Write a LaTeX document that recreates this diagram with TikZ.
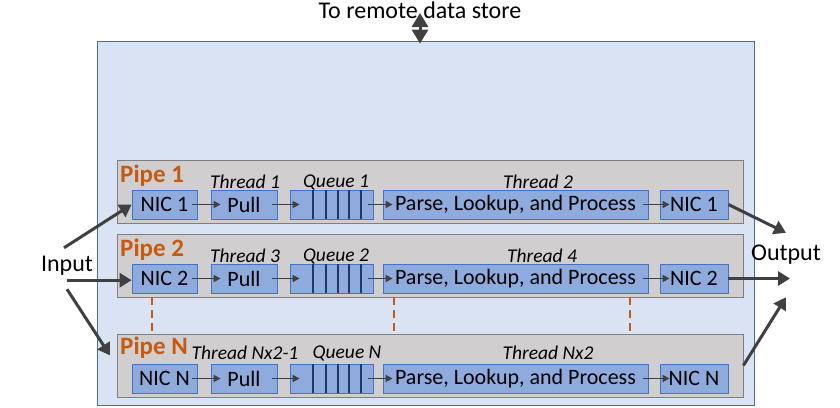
\documentclass[tikz,border=0pt]{standalone}
\usepackage{fontspec}
\setmainfont{Carlito}
\usepackage{tikz}
\definecolor{storeblue}{RGB}{218, 227, 243}
\definecolor{storeline}{RGB}{65, 113, 156}
\definecolor{pipegray}{RGB}{208, 206, 206}
\definecolor{pipeline}{RGB}{127, 127, 127}
\definecolor{stageblue}{RGB}{143, 170, 220}
\definecolor{stageline}{RGB}{68, 114, 196}
\definecolor{queueline}{RGB}{32, 56, 100}
\definecolor{pipeorange}{RGB}{197, 90, 17}
\definecolor{arrowgray}{RGB}{64, 64, 64}
\usetikzlibrary{
  arrows.meta,
  calc,
  positioning,
}
\tikzset{
  >=Triangle[],
  serverbox/.style={draw=storeline, fill=storeblue, line width=0.8pt, inner sep=0pt},
  pipebox/.style={draw=pipeline, fill=pipegray, line width=0.8pt,
    minimum width=626pt, minimum height=63pt, inner sep=0pt},
  stagebox/.style={draw=stageline, fill=stageblue, line width=0.8pt,
    minimum height=29pt, inner sep=0pt, font=\fontsize{22}{24}\selectfont},
  pipelabel/.style={text=pipeorange, anchor=west, inner sep=0pt,
    font=\bfseries\fontsize{25}{28}\selectfont},
  threadlabel/.style={inner sep=0pt, font=\itshape\fontsize{19.5}{22}\selectfont},
  iolabel/.style={inner sep=0pt, font=\fontsize{24}{26}\selectfont},
  stagearrow/.style={->, draw=arrowgray, line width=1.6pt,
    >={Triangle[length=7pt, width=7pt]}, shorten <=-5pt, shorten >=-10pt},
  bigarrow/.style={->, draw=arrowgray, line width=3pt,
    >={Triangle[length=12pt, width=14pt]}},
  bothways/.style={<->, draw=arrowgray, line width=3pt,
    >={Triangle[length=14pt, width=16pt]}},
  farlink/.style={draw=pipeorange, line width=2pt, dash pattern=on 8pt off 5pt},
  qline/.style={draw=queueline, line width=2pt},
}

\begin{document}
\begin{tikzpicture}[x=1pt, y=-1pt]
      \useasboundingbox (0,0) rectangle (840,407);
      \node [serverbox, minimum width=657pt, minimum height=364pt] at (425.5, 223)
            (server) {};
      \node [iolabel] at (420, 10) (remote) {To remote data store};
      \draw [bothways, shorten >=-3pt] ([yshift=-3pt]remote.center)
            -- (remote.center |- server.north);

      % one pipe per row
      \foreach \row/\ytop/\pipey/\laby/\ta/\tax/\qx/\tb/\tbx in {
          1/160/176/182/Thread 1/245/336/Thread 2/538,
          2/234/250/256/Thread 3/245/336/Thread 4/542,
          N/334/348/353/Thread Nx2-1/245/347/Thread Nx2/548} {
        \node [pipebox] at (430, \ytop+31.5) (pipe\row) {};
        \node [pipelabel] at (120, \pipey) (pipelbl\row) {Pipe \row};
        \node [stagebox, minimum width=65pt] at (164.5, \ytop+44.5) (nicin\row) {NIC \row};
        \node [stagebox, minimum width=66pt] at (244, \ytop+44.5) (pull\row) {Pull};
        \node [stagebox, minimum width=83pt] at (331.5, \ytop+44.5) (queue\row) {};
        \node [stagebox, minimum width=265pt] at (515.5, \ytop+44.5)
              (parse\row) {Parse, Lookup, and Process};
        \node [stagebox, minimum width=68pt] at (694, \ytop+44.5) (nicout\row) {NIC \row};
        \node [threadlabel] at (\tax, \laby) (threadA\row) {\ta};
        \node [threadlabel] at (\qx, \laby) (qlbl\row) {Queue \row};
        \node [threadlabel] at (\tbx, \laby) (threadB\row) {\tb};
        \foreach \q in {23,36,48,59,71}
          \draw [qline] ([xshift=\q pt]queue\row.south west)
                -- ([xshift=\q pt]queue\row.north west);
        \draw [stagearrow] (nicin\row.east) -- (pull\row.west);
        \draw [stagearrow] (pull\row.east) -- (queue\row.west);
        \draw [stagearrow] (queue\row.east) -- (parse\row.west);
        \draw [stagearrow] (parse\row.east) -- (nicout\row.west);
      }

      \foreach \x in {152,394,630} {
        \coordinate (gap) at (\x, 0);
        \draw [farlink] (pipe2.south -| gap) -- (pipeN.north -| gap);
      }

      \node [iolabel, minimum height=28pt] at (67, 266) (input) {Input};
      \draw [bigarrow] ([xshift=-3pt,yshift=4pt]input.north) -- (nicin1.west);
      \draw [bigarrow] (input.south) -- (input.south -| nicin2.west);
      \draw [bigarrow, shorten >=12pt] ([yshift=-9pt]input.south) -- (pipeN.west);

      \node [iolabel, minimum height=44pt] at (786, 255) (output) {Output};
      \draw [bigarrow] (nicout1.east) -- (output.north);
      \draw [bigarrow, shorten >=-4pt] (nicout2.east) -- (nicout2.east -| output.south);
      \draw [bigarrow] (pipeN.east) -- ([yshift=-20pt]output.south);
\end{tikzpicture}
\end{document}
